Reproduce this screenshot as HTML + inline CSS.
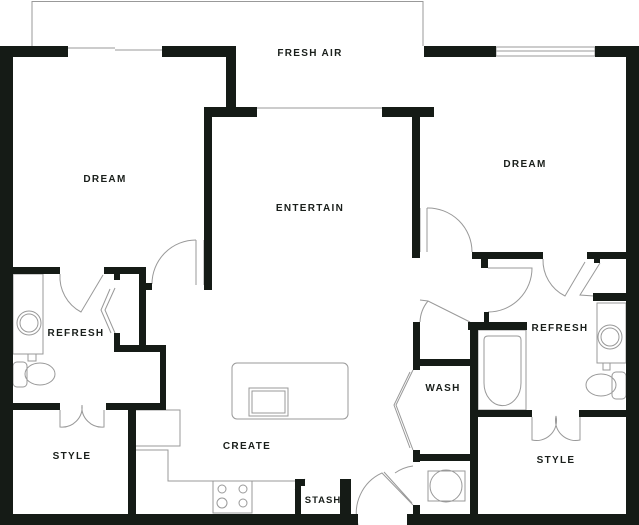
<!DOCTYPE html>
<html><head><meta charset="utf-8"><style>
html,body{margin:0;padding:0;background:#fff;}
svg{display:block}
text{font-family:"Liberation Sans",sans-serif;font-size:10px;font-weight:bold;letter-spacing:1.3px;fill:#1a1f1b;text-anchor:middle}
</style></head><body>
<svg width="639" height="525" viewBox="0 0 639 525" xmlns="http://www.w3.org/2000/svg">
<g fill="none" stroke="#999" stroke-width="1">
<!-- balcony rail -->
<path d="M32 46 V1.5 H423 V46"/>
<!-- windows -->
<path d="M68 48 H115 M115 50 H162"/>
<path d="M257 108 H382"/>
<rect x="496" y="47" width="99" height="9"/>
<path d="M496 51 H595"/>
<!-- doors: swing arcs -->
<path d="M196 285 V240 M204 240 V285"/>
<path d="M196 240 A44 44 0 0 0 152 284"/>
<path d="M427 208 V252 M420 208 V252"/>
<path d="M427 208 A44 44 0 0 1 472 252"/>
<path d="M488 268 H532 A44 44 0 0 1 488 312"/>
<path d="M543 259 A40 40 0 0 0 565 296 L585 262"/>
<path d="M600 263 L580 295 L594 296"/>
<path d="M60 274 A40 40 0 0 0 81 312 L103 275"/>
<path d="M115 288 L105 310 L115 333 M110 289 L101 310 L111 333"/>
<path d="M60 410 V427 A20 20 0 0 0 82 405 A20 20 0 0 0 104 427 V410"/>
<path d="M532 417 V440 A20 20 0 0 0 556 416 A20 20 0 0 0 580 440 V417"/>
<path d="M420 300 L428 301 L470 322"/>
<path d="M428 301 A35 35 0 0 0 420 322"/>
<path d="M413 370 L396 405 L413 450 M410 372 L394 405 L410 448"/>
<path d="M358 525 A44 44 0 0 1 382 473 L413 505 M384 472 L412 503"/>
<path d="M413 466 A40 40 0 0 0 395 473"/>
<path d="M305 479 L295 490"/>
<!-- bathroom fixtures left -->
<rect x="13" y="274" width="30" height="80"/>
<circle cx="29" cy="323" r="12"/><circle cx="29" cy="323" r="9"/>
<rect x="28" y="354" width="8" height="7"/>
<rect x="13" y="362" width="14" height="25" rx="4"/>
<ellipse cx="40" cy="374" rx="15" ry="11"/>
<!-- right bathroom -->
<rect x="597" y="303" width="29" height="60"/>
<circle cx="610" cy="337" r="12"/><circle cx="610" cy="337" r="9"/>
<rect x="603" y="363" width="7" height="7"/>
<rect x="612" y="372" width="14" height="27" rx="4"/>
<ellipse cx="601" cy="385" rx="15" ry="11"/>
<rect x="478" y="330" width="48" height="80"/>
<path d="M484 340 Q484 336 488 336 H517 Q521 336 521 340 V383 A18 22 0 0 1 484 383 Z"/>
<!-- kitchen -->
<rect x="232" y="363" width="116" height="56" rx="5"/>
<rect x="249" y="388" width="39" height="28"/>
<rect x="252" y="391" width="33" height="22"/>
<path d="M135 410 H180 V446 H135"/>
<path d="M135 450 H168 V481 H295"/>
<rect x="213" y="481" width="39" height="32"/>
<circle cx="222" cy="489" r="4"/><circle cx="243" cy="489" r="4"/>
<circle cx="222" cy="503" r="5"/><circle cx="243" cy="503" r="4"/>
<!-- washer -->
<rect x="428" y="471" width="37" height="30"/>
<circle cx="446" cy="486" r="16"/>
</g>
<g fill="#151b16">
<!-- outer -->
<rect x="0" y="46" width="68" height="11"/>
<rect x="0" y="46" width="13" height="479"/>
<rect x="162" y="46" width="74" height="11"/>
<rect x="226" y="46" width="10" height="71"/>
<rect x="204" y="107" width="53" height="10"/>
<rect x="204" y="107" width="8" height="183"/>
<rect x="382" y="107" width="52" height="10"/>
<rect x="424" y="46" width="72" height="11"/>
<rect x="595" y="46" width="44" height="11"/>
<rect x="626" y="46" width="13" height="479"/>
<rect x="412" y="107" width="8" height="151"/>
<rect x="412" y="252" width="8" height="6"/>
<rect x="0" y="514" width="358" height="11"/>
<rect x="407" y="514" width="232" height="11"/>
<!-- left side interior -->
<rect x="13" y="267" width="47" height="7"/>
<rect x="104" y="267" width="42" height="7"/>
<rect x="114" y="267" width="6" height="13"/>
<rect x="114" y="333" width="6" height="19"/>
<rect x="139" y="267" width="7" height="85"/>
<rect x="146" y="283" width="6" height="7"/>
<rect x="114" y="345" width="52" height="7"/>
<rect x="160" y="345" width="6" height="65"/>
<rect x="13" y="403" width="47" height="7"/>
<rect x="106" y="403" width="60" height="7"/>
<rect x="128" y="403" width="8" height="117"/>
<!-- stash -->
<rect x="295" y="479" width="6" height="40"/>
<rect x="295" y="479" width="10" height="7"/>
<rect x="340" y="479" width="11" height="40"/>
<!-- right side -->
<rect x="472" y="252" width="71" height="7"/>
<rect x="481" y="252" width="7" height="16"/>
<rect x="587" y="252" width="39" height="7"/>
<rect x="594" y="252" width="6" height="11"/>
<rect x="593" y="293" width="33" height="8"/>
<rect x="413" y="322" width="7" height="48"/>
<rect x="420" y="359" width="50" height="7"/>
<rect x="468" y="322" width="59" height="8"/>
<rect x="484" y="312" width="5" height="12"/>
<rect x="470" y="322" width="8" height="198"/>
<rect x="478" y="410" width="54" height="7"/>
<rect x="579" y="410" width="47" height="7"/>
<rect x="413" y="454" width="57" height="7"/>
<rect x="413" y="450" width="7" height="12"/>
<rect x="413" y="505" width="7" height="10"/>
</g>
<text x="310" y="56">FRESH AIR</text>
<text x="105" y="182">DREAM</text>
<text x="310" y="211">ENTERTAIN</text>
<text x="525" y="167">DREAM</text>
<text x="76" y="336">REFRESH</text>
<text x="560" y="331">REFRESH</text>
<text x="443" y="391">WASH</text>
<text x="72" y="459">STYLE</text>
<text x="556" y="463">STYLE</text>
<text x="247" y="449">CREATE</text>
<text x="323" y="503" style="font-size:9.5px;letter-spacing:1px">STASH</text>
</svg>
</body></html>
